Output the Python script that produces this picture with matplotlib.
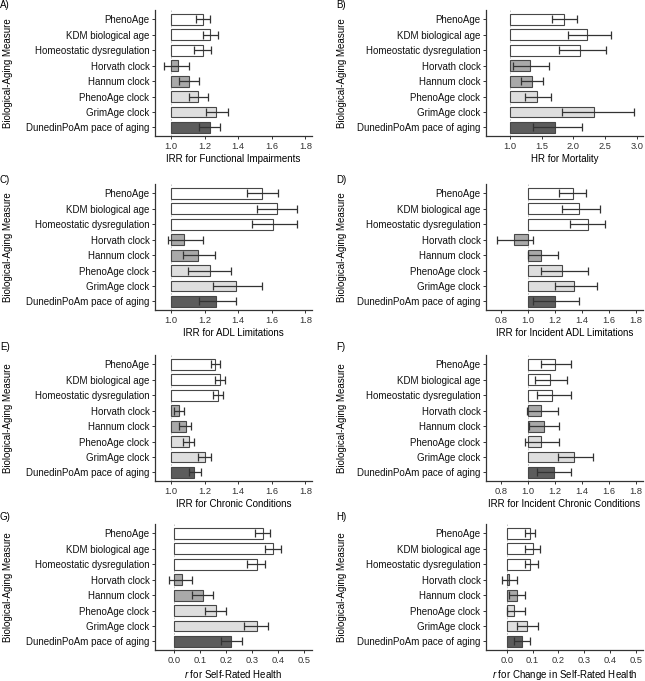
import matplotlib
matplotlib.use("Agg")
import matplotlib.pyplot as plt
import numpy as np

plt.rcParams['font.family'] = ['Liberation Sans', 'DejaVu Sans']
plt.rcParams['mathtext.fontset'] = 'custom'
plt.rcParams['mathtext.it'] = 'Liberation Sans:italic'
plt.rcParams['mathtext.rm'] = 'Liberation Sans'

measures = ["PhenoAge", "KDM biological age", "Homeostatic dysregulation",
            "Horvath clock", "Hannum clock", "PhenoAge clock", "GrimAge clock",
            "DunedinPoAm pace of aging"]
bar_colors = ["white", "white", "white", "#a9a9a9", "#a9a9a9",
              "#dedede", "#dedede", "#5c5c5c"]

# A) functional impairments
fi_est = [1.19, 1.23, 1.19, 1.04, 1.11, 1.16, 1.27, 1.23]
fi_lo = [1.15, 1.19, 1.14, 0.96, 1.05, 1.11, 1.21, 1.17]
fi_hi = [1.23, 1.28, 1.24, 1.11, 1.17, 1.22, 1.34, 1.29]
# B) mortality
mort_est = [1.85, 2.22, 2.10, 1.31, 1.34, 1.43, 2.32, 1.71]
mort_lo = [1.66, 1.91, 1.77, 1.05, 1.18, 1.23, 1.82, 1.36]
mort_hi = [2.05, 2.60, 2.52, 1.61, 1.52, 1.64, 2.96, 2.14]
# C) ADL limitations
adl_est = [1.54, 1.63, 1.61, 1.08, 1.16, 1.23, 1.39, 1.27]
adl_lo = [1.45, 1.51, 1.48, 0.98, 1.07, 1.10, 1.25, 1.17]
adl_hi = [1.64, 1.75, 1.75, 1.19, 1.26, 1.36, 1.54, 1.39]
# D) incident ADL limitations
iadl_est = [1.33, 1.38, 1.44, 0.90, 1.10, 1.25, 1.34, 1.20]
iadl_lo = [1.23, 1.25, 1.31, 0.77, 1.00, 1.10, 1.20, 1.04]
iadl_hi = [1.43, 1.53, 1.57, 1.04, 1.22, 1.44, 1.51, 1.38]
# E) chronic conditions
cc_est = [1.26, 1.29, 1.28, 1.05, 1.09, 1.11, 1.20, 1.14]
cc_lo = [1.24, 1.26, 1.25, 1.02, 1.05, 1.07, 1.16, 1.11]
cc_hi = [1.29, 1.32, 1.31, 1.08, 1.12, 1.14, 1.24, 1.18]
# F) incident chronic conditions
icc_est = [1.20, 1.16, 1.18, 1.10, 1.12, 1.10, 1.34, 1.19]
icc_lo = [1.10, 1.05, 1.07, 0.99, 1.01, 0.98, 1.22, 1.07]
icc_hi = [1.32, 1.29, 1.32, 1.22, 1.23, 1.23, 1.48, 1.32]
# G) self-rated health
srh_est = [0.34, 0.38, 0.32, 0.03, 0.11, 0.16, 0.32, 0.22]
srh_lo = [0.31, 0.35, 0.28, -0.02, 0.07, 0.12, 0.27, 0.18]
srh_hi = [0.37, 0.41, 0.35, 0.07, 0.15, 0.20, 0.36, 0.26]
# H) change in self-rated health
dsrh_est = [0.09, 0.10, 0.09, 0.01, 0.04, 0.03, 0.08, 0.06]
dsrh_lo = [0.07, 0.07, 0.07, -0.02, 0.01, 0.00, 0.04, 0.03]
dsrh_hi = [0.11, 0.13, 0.12, 0.04, 0.07, 0.07, 0.12, 0.09]

panels = [
    ("A)", "IRR for Functional Impairments", fi_est, fi_lo, fi_hi, 1.0,
     (0.905, 1.84), [1.0, 1.2, 1.4, 1.6, 1.8]),
    ("B)", "HR for Mortality", mort_est, mort_lo, mort_hi, 1.0,
     (0.62, 3.1), [1.0, 1.5, 2.0, 2.5, 3.0]),
    ("C)", "IRR for ADL Limitations", adl_est, adl_lo, adl_hi, 1.0,
     (0.905, 1.84), [1.0, 1.2, 1.4, 1.6, 1.8]),
    ("D)", "IRR for Incident ADL Limitations", iadl_est, iadl_lo, iadl_hi, 1.0,
     (0.69, 1.85), [0.8, 1.0, 1.2, 1.4, 1.6, 1.8]),
    ("E)", "IRR for Chronic Conditions", cc_est, cc_lo, cc_hi, 1.0,
     (0.905, 1.84), [1.0, 1.2, 1.4, 1.6, 1.8]),
    ("F)", "IRR for Incident Chronic Conditions", icc_est, icc_lo, icc_hi, 1.0,
     (0.69, 1.85), [0.8, 1.0, 1.2, 1.4, 1.6, 1.8]),
    ("G)", r"$\mathit{r}$ for Self-Rated Health", srh_est, srh_lo, srh_hi, 0.0,
     (-0.073, 0.53), [0.0, 0.1, 0.2, 0.3, 0.4, 0.5]),
    ("H)", r"$\mathit{r}$ for Change in Self-Rated Health", dsrh_est, dsrh_lo, dsrh_hi, 0.0,
     (-0.08, 0.527), [0.0, 0.1, 0.2, 0.3, 0.4, 0.5]),
]

W, H = 645, 681
fig = plt.figure(figsize=(W / 100, H / 100), dpi=100)

lefts = [155, 486]
tops = [10, 184, 355, 524]
tag_x = [0, 336]
tag_y = [0, 175, 342, 512]
ylab_x = [13, 347]
ax_w = 157
ax_h = 126
fs = 7.0

for i, (tag, xlabel, est, lo, hi, base, xlim, xticks) in enumerate(panels):
    row, col = divmod(i, 2)
    x0 = lefts[col]
    y0 = tops[row]
    ax = fig.add_axes([x0 / W, 1 - (y0 + ax_h) / H, ax_w / W, ax_h / H])
    y = np.arange(len(measures))
    est = np.array(est)
    ax.axvline(base, color="#c8c8c8", lw=0.7, ls=(0, (2, 2)), zorder=0)
    ax.barh(y, est - base, left=base, height=0.7, color=bar_colors,
            edgecolor="#474747", linewidth=0.8, zorder=2)
    xerr = np.vstack([est - np.array(lo), np.array(hi) - est])
    ax.errorbar(est, y, xerr=xerr, fmt="none", ecolor="#333333",
                elinewidth=0.9, capsize=3.2, capthick=0.9, zorder=3)
    ax.set_xlim(*xlim)
    ax.set_ylim(7.55, -0.6)
    ax.set_yticks(y)
    ax.set_yticklabels(measures, fontsize=fs)
    ax.set_xticks(xticks)
    ax.set_xticklabels([f"{t:.1f}" for t in xticks], fontsize=6.7, color="#222222")
    ax.set_xlabel(xlabel, fontsize=fs, labelpad=2.5)
    ax.set_ylabel("Biological-Aging Measure", fontsize=fs)
    ax.yaxis.set_label_coords((ylab_x[col] - x0) / ax_w, 0.5)
    for s in ["top", "right"]:
        ax.spines[s].set_visible(False)
    for s in ["left", "bottom"]:
        ax.spines[s].set_color("#333333")
        ax.spines[s].set_linewidth(0.9)
    ax.tick_params(axis="both", length=2, width=0.7, colors="#333333", pad=2)
    ax.tick_params(axis="y", labelcolor="#111111", pad=2)
    fig.text(tag_x[col] / W, 1 - tag_y[row] / H, tag, fontsize=fs,
             va="top", ha="left")

fig.savefig("out.png", dpi=100)
